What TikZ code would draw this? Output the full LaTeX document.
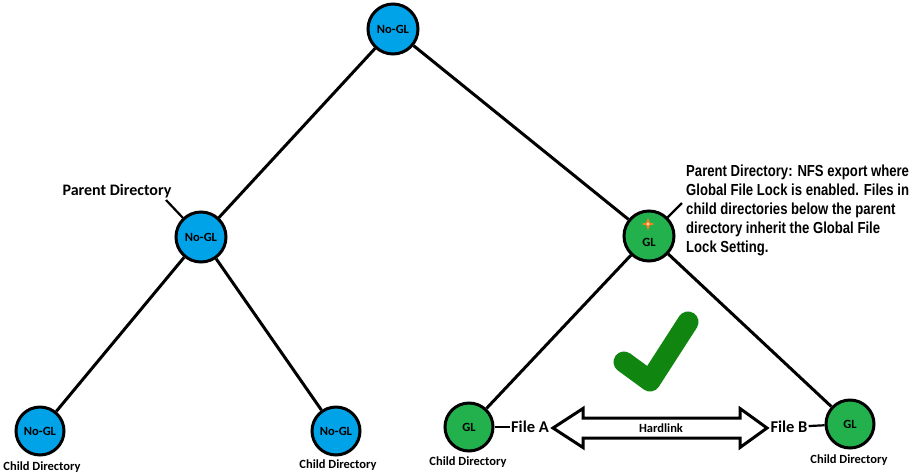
\documentclass[tikz,border=0pt]{standalone}
\usepackage{fontspec}
\setmainfont{Carlito}
\newfontfamily\narrowfont[FakeStretch=0.82]{Liberation Sans}
\definecolor{nodeblue}{RGB}{0,162,232}
\definecolor{nodegreen}{RGB}{34,177,76}
\definecolor{checkgreen}{RGB}{16,134,16}
\definecolor{starorange}{RGB}{255,127,39}
\begin{document}
\begin{tikzpicture}[x=1pt,y=-1pt,
  dirnode/.style={circle,draw=black,line width=3pt,minimum size=50pt,inner sep=0pt,
    font=\bfseries\fontsize{12.5}{14}\selectfont},
  nogl/.style={dirnode,fill=nodeblue},
  gl/.style={dirnode,fill=nodegreen},
  leafsize/.style={minimum size=48pt},
  edge/.style={line width=3pt},
  conn/.style={line width=2.2pt},
  lbl/.style={font=\bfseries\fontsize{12.5}{14}\selectfont,inner sep=0.5pt},
  filelbl/.style={font=\bfseries\fontsize{16.5}{18}\selectfont,inner sep=1pt},
  note/.style={font=\narrowfont\bfseries\fontsize{16}{19}\selectfont,align=left,inner sep=0pt}
]
\useasboundingbox (0,0) rectangle (911,475);

% nodes
\node[nogl] (top) at (393,29) {No-GL};
\node[nogl] (lp) at (201,237) {No-GL};
\node[gl] (rp) at (649,236) {};
\node[lbl] (rptext) at (649,242) {GL};
\fill[starorange] (648,217.5) -- (649.6,222.4) -- (654.5,224) -- (649.6,225.6) -- (648,230.5)
  -- (646.4,225.6) -- (641.5,224) -- (646.4,222.4) -- cycle;
\fill[yellow!30!white] (648,224) circle (1.3);

\node[nogl,leafsize] (l1) at (40,431) {No-GL};
\node[nogl,leafsize] (l2) at (336,431) {No-GL};
\node[gl,leafsize] (g1) at (469,427) {GL};
\node[gl,leafsize] (g2) at (850,424) {GL};

% tree edges
\draw[edge] (top) -- (lp);
\draw[edge] (top) -- (rp);
\draw[edge] (lp) -- (l1);
\draw[edge] (lp) -- (l2);
\draw[edge] (rp) -- (g1);
\draw[edge] (rp) -- (g2);

% labels
\node[lbl] (c1) at (42,467) {Child Directory};
\node[lbl] (c2) at (338,465) {Child Directory};
\node[lbl] (c3) at (468,462) {Child Directory};
\node[lbl] (c4) at (849,460) {Child Directory};

\node[font=\bfseries\fontsize{16}{18}\selectfont,inner sep=0pt] (pdl) at (117,191) {Parent Directory};
\coordinate (pdc) at (166,200);
\draw[conn] (pdc) -- (lp);

\node[note,anchor=north west] (notetext) at (686,165) {Parent Directory: NFS export where\\
Global File Lock is enabled. Files in\\
child directories below the parent\\
directory inherit the Global File\\
Lock Setting.};
\coordinate (rpc) at (682,203);
\draw[conn] (rpc) -- (rp);

% files
\node[filelbl] (fa) at (530,427) {File A};
\node[filelbl] (fb) at (789,427) {File B};
\draw[conn] (g1) -- (fa);
\draw[conn] (fb) -- (g2);

% hardlink arrow
\draw[line width=3pt,fill=white,line join=miter]
  (553,428) -- (583,408.5) -- (583,418) -- (740,418) -- (740,408.5) -- (767,428)
  -- (740,447.5) -- (740,438) -- (583,438) -- (583,447.5) -- cycle;
\node[lbl] (hl) at (661,428) {Hardlink};

% check mark
\draw[checkgreen,line width=21pt,line cap=round,line join=round]
  (624,362) -- (650,381) -- (688,322);
\end{tikzpicture}
\end{document}
